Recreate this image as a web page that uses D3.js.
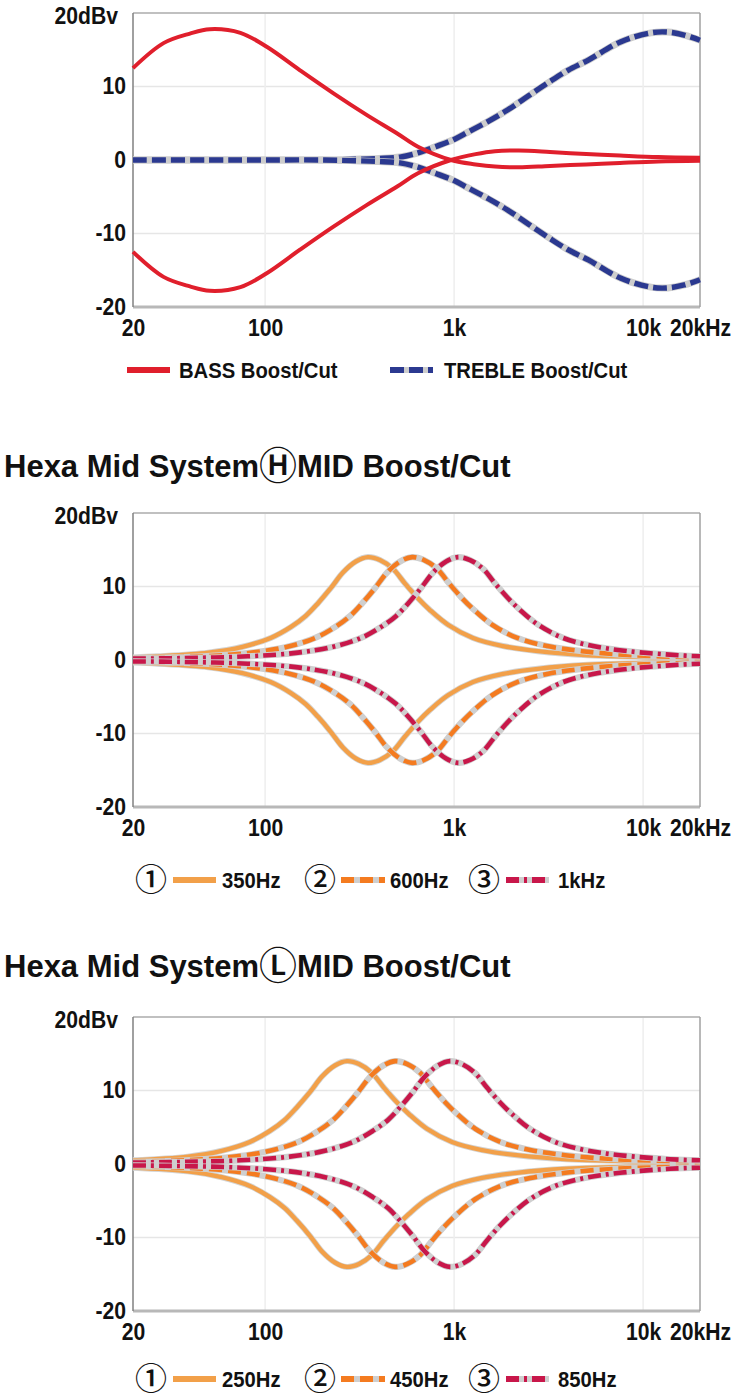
<!DOCTYPE html>
<html><head><meta charset="utf-8">
<script src="https://cdn.jsdelivr.net/npm/d3@7"></script>
<style>body{margin:0;background:#fff} svg{display:block}</style>
</head><body><svg id="c" width="736" height="1400"></svg>
<script>
// ---------- axis labels ----------
const yTickValues = [20, 10, 0, -10, -20];
const yTickLabels = ["20dBv", "10", "0", "-10", "-20"];
const xTickValues = [20, 100, 1000, 10000, 20000];
const xTickLabels = ["20", "100", "1k", "10k", "20kHz"];
const gridFreqs = [100, 1000, 10000];
const gridDb = [10, -10];

// ---------- chart 1 : BASS / TREBLE ----------
const bassFreq  = [20, 29, 40, 51, 74, 102, 153, 229, 346, 500, 644, 963, 1300, 1645, 2200, 3215, 5000, 7547, 12000, 20000];
const bassBoost = [12.5, 15.9, 17.2, 17.8, 17.3, 15.4, 12.2, 9.1, 6.1, 3.6, 1.8, 0, -0.6, -0.9, -1.0, -0.8, -0.6, -0.4, -0.2, -0.1];
const bassCut   = [-12.5, -15.9, -17.2, -17.8, -17.3, -15.4, -12.2, -9.1, -6.1, -3.6, -1.8, 0, 0.8, 1.2, 1.3, 1.1, 0.8, 0.6, 0.4, 0.3];

const trebleFreq  = [20, 50, 100, 200, 300, 400, 517, 650, 793, 1000, 1185, 1500, 1917, 2500, 3140, 4000, 5130, 7640, 11000, 13500, 16500, 20000];
const trebleBoost = [0, 0, 0, 0, 0.1, 0.2, 0.4, 1.0, 1.8, 2.8, 3.8, 5.2, 6.8, 8.8, 10.5, 12.2, 13.6, 16.1, 17.3, 17.4, 17.0, 16.3];
const trebleCut   = [0, 0, 0, 0, -0.1, -0.2, -0.4, -1.0, -1.8, -2.8, -3.8, -5.2, -6.8, -8.8, -10.5, -12.2, -13.6, -16.1, -17.3, -17.4, -17.0, -16.3];

// ---------- chart 2 : Hexa Mid System H ----------
const h350Freq  = [20, 27, 50, 76, 107, 137, 164, 190, 223, 258, 302, 350, 405, 475, 550, 644, 745, 928, 1259, 1814, 2776, 5110, 13510, 20000];
const h350Boost = [0.35, 0.5, 1.0, 1.8, 3.0, 4.5, 6.0, 7.7, 9.8, 11.9, 13.4, 14.0, 13.6, 12.4, 10.4, 8.4, 6.8, 4.8, 3.0, 1.9, 1.2, 0.65, 0.35, 0.3];
const h350Cut   = [-0.35, -0.5, -1.0, -1.8, -3.0, -4.5, -6.0, -7.7, -9.8, -11.9, -13.4, -14.0, -13.6, -12.4, -10.4, -8.4, -6.8, -4.8, -3.0, -1.9, -1.2, -0.65, -0.35, -0.3];

const h600Freq  = [20, 47, 85, 131, 184, 235, 282, 326, 382, 442, 518, 600, 694, 814, 942, 1103, 1277, 1590, 2158, 3110, 4758, 8760, 20000];
const h600Boost = [0.25, 0.5, 1.0, 1.8, 3.0, 4.5, 6.0, 7.7, 9.8, 11.9, 13.4, 14.0, 13.6, 12.4, 10.4, 8.4, 6.8, 4.8, 3.0, 1.9, 1.2, 0.65, 0.35];
const h600Cut   = [-0.25, -0.5, -1.0, -1.8, -3.0, -4.5, -6.0, -7.7, -9.8, -11.9, -13.4, -14.0, -13.6, -12.4, -10.4, -8.4, -6.8, -4.8, -3.0, -1.9, -1.2, -0.65, -0.35];

const h1kFreq  = [20, 35, 81, 149, 229, 322, 411, 494, 571, 669, 774, 907, 1050, 1215, 1424, 1649, 1931, 2234, 2783, 3776, 5442, 8327, 15330, 20000];
const h1kBoost = [0.2, 0.25, 0.5, 1.0, 1.8, 3.0, 4.5, 6.0, 7.7, 9.8, 11.9, 13.4, 14.0, 13.6, 12.4, 10.4, 8.4, 6.8, 4.8, 3.0, 1.9, 1.2, 0.65, 0.5];
const h1kCut   = [-0.2, -0.25, -0.5, -1.0, -1.8, -3.0, -4.5, -6.0, -7.7, -9.8, -11.9, -13.4, -14.0, -13.6, -12.4, -10.4, -8.4, -6.8, -4.8, -3.0, -1.9, -1.2, -0.65, -0.5];

// ---------- chart 3 : Hexa Mid System L ----------
const l250Freq  = [20, 39, 59, 83, 106, 127, 147, 173, 200, 234, 271, 314, 367, 425, 498, 577, 718, 975, 1405, 2149, 3957, 10460, 20000];
const l250Boost = [0.5, 1.0, 1.8, 3.0, 4.5, 6.0, 7.7, 9.8, 11.9, 13.4, 14.0, 13.6, 12.4, 10.4, 8.4, 6.8, 4.8, 3.0, 1.9, 1.2, 0.65, 0.35, 0.28];
const l250Cut   = [-0.5, -1.0, -1.8, -3.0, -4.5, -6.0, -7.7, -9.8, -11.9, -13.4, -14.0, -13.6, -12.4, -10.4, -8.4, -6.8, -4.8, -3.0, -1.9, -1.2, -0.65, -0.35, -0.28];

const l450Freq  = [20, 38, 69, 106, 150, 191, 229, 265, 311, 360, 422, 488, 565, 662, 766, 897, 1038, 1293, 1755, 2529, 3870, 7125, 20000];
const l450Boost = [0.3, 0.5, 1.0, 1.8, 3.0, 4.5, 6.0, 7.7, 9.8, 11.9, 13.4, 14.0, 13.6, 12.4, 10.4, 8.4, 6.8, 4.8, 3.0, 1.9, 1.2, 0.65, 0.35];
const l450Cut   = [-0.3, -0.5, -1.0, -1.8, -3.0, -4.5, -6.0, -7.7, -9.8, -11.9, -13.4, -14.0, -13.6, -12.4, -10.4, -8.4, -6.8, -4.8, -3.0, -1.9, -1.2, -0.65, -0.35];

const l850Freq  = [20, 31, 74, 135, 207, 292, 371, 447, 517, 605, 700, 821, 950, 1099, 1288, 1492, 1747, 2022, 2518, 3416, 4924, 7534, 13870, 20000];
const l850Boost = [0.2, 0.25, 0.5, 1.0, 1.8, 3.0, 4.5, 6.0, 7.7, 9.8, 11.9, 13.4, 14.0, 13.6, 12.4, 10.4, 8.4, 6.8, 4.8, 3.0, 1.9, 1.2, 0.65, 0.5];
const l850Cut   = [-0.2, -0.25, -0.5, -1.0, -1.8, -3.0, -4.5, -6.0, -7.7, -9.8, -11.9, -13.4, -14.0, -13.6, -12.4, -10.4, -8.4, -6.8, -4.8, -3.0, -1.9, -1.2, -0.65, -0.5];

// legend / title texts
const legend1Labels = ["BASS Boost/Cut", "TREBLE Boost/Cut"];
const legendNums = ["①", "②", "③"];
const legendHLabels = ["350Hz", "600Hz", "1kHz"];
const legendLLabels = ["250Hz", "450Hz", "850Hz"];
const titleH = ["Hexa Mid System", "Ⓗ", "MID Boost/Cut"];
const titleL = ["Hexa Mid System", "Ⓛ", "MID Boost/Cut"];

// ---------- styles ----------
const FONT = "'Liberation Sans', Arial, Helvetica, sans-serif";
const CJK = "'Noto Sans CJK JP', 'Noto Sans CJK SC', sans-serif";
const styles = {
  bass:   {color: "#e01f2c", width: 4, dash: null, halo: null},
  treble: {color: "#2b3990", width: 5.4, dash: "14 5", halo: "#cdcdcd"},
  solid:  {color: "#f2a049", width: 4.4, dash: null, halo: "#d4d4d4"},
  dashed: {color: "#f47b20", width: 4.6, dash: "13 6", halo: "#cfcfcf"},
  dashdot:{color: "#c8174a", width: 4.6, dash: "13 5 3 5", halo: "#cfcfcf"}
};

const svg = d3.select("#c");
const x = d3.scaleLog().domain([20, 20000]).range([133, 700]);
const PH = 294;

function condense(sel, k) {
  sel.each(function () {
    const w = this.getComputedTextLength();
    d3.select(this).attr("textLength", w * k).attr("lengthAdjust", "spacingAndGlyphs");
  });
}

function drawChart(top, series) {
  const y = d3.scaleLinear().domain([-20, 20]).range([top + PH, top]);
  const g = svg.append("g");
  // grid
  g.selectAll(".gh").data(gridDb).join("line")
    .attr("x1", x(20)).attr("x2", x(20000)).attr("y1", d => y(d)).attr("y2", d => y(d))
    .attr("stroke", "#e6e6e6").attr("stroke-width", 1.5);
  g.selectAll(".gv").data(gridFreqs).join("line")
    .attr("x1", d => x(d)).attr("x2", d => x(d)).attr("y1", y(20)).attr("y2", y(-20))
    .attr("stroke", "#eeeeee").attr("stroke-width", 1.5);
  // frame
  g.append("line").attr("x1", x(20)).attr("x2", x(20000)).attr("y1", y(20)).attr("y2", y(20))
    .attr("stroke", "#c0c0c0").attr("stroke-width", 2);
  g.append("line").attr("x1", x(20)).attr("x2", x(20000)).attr("y1", y(-20)).attr("y2", y(-20))
    .attr("stroke", "#b8b8b8").attr("stroke-width", 3);
  g.append("line").attr("x1", x(20000)).attr("x2", x(20000)).attr("y1", y(20)).attr("y2", y(-20))
    .attr("stroke", "#a0a0a0").attr("stroke-width", 1.5);
  g.append("line").attr("x1", x(20)).attr("x2", x(20)).attr("y1", y(20)).attr("y2", y(-20))
    .attr("stroke", "#808080").attr("stroke-width", 1.5);

  // curves
  const line = d3.line().x(d => x(d[0])).y(d => y(d[1])).curve(d3.curveCatmullRom.alpha(0.5));
  series.forEach(s => {
    const st = styles[s.style];
    const pts = d3.zip(s.f, s.v);
    if (st.halo) {
      g.append("path").datum(pts).attr("d", line).attr("fill", "none")
        .attr("stroke", st.halo).attr("stroke-width", st.width + 1.6).attr("stroke-linejoin", "round");
    }
    g.append("path").datum(pts).attr("d", line).attr("fill", "none")
      .attr("stroke", st.color).attr("stroke-width", st.width)
      .attr("stroke-dasharray", st.dash).attr("stroke-linejoin", "round");
  });

  // axes
  const ay = g.append("g").attr("transform", `translate(${x(20)},0)`)
    .call(d3.axisLeft(y).tickValues(yTickValues).tickFormat((d, i) => yTickLabels[i]).tickSize(0).tickPadding(7));
  ay.select(".domain").remove();
  ay.selectAll("text").attr("font-family", FONT).attr("font-weight", "bold").attr("font-size", 23).attr("fill", "#111");
  ay.selectAll("text").filter((d, i) => i === 0).attr("dx", -8).attr("dy", "0.45em");
  condense(ay.selectAll("text"), 0.92);

  const ax = g.append("g").attr("transform", `translate(0,${y(-20)})`)
    .call(d3.axisBottom(x).tickValues(xTickValues).tickFormat((d, i) => xTickLabels[i]).tickSize(0).tickPadding(13));
  ax.select(".domain").remove();
  ax.selectAll("text").attr("font-family", FONT).attr("font-weight", "bold").attr("font-size", 23).attr("fill", "#111");
  condense(ax.selectAll("text"), 0.92);
  return {g, y};
}

function legendLine(g, x1, x2, yy, styleKey, w) {
  const st = styles[styleKey];
  if (st.halo && st.dash) {
    g.append("line").attr("x1", x1).attr("x2", x2).attr("y1", yy).attr("y2", yy)
      .attr("stroke", st.halo).attr("stroke-width", w);
  }
  g.append("line").attr("x1", x1).attr("x2", x2).attr("y1", yy).attr("y2", yy)
    .attr("stroke", st.color).attr("stroke-width", w).attr("stroke-dasharray", st.dash);
}

function legendText(g, xx, yy, txt) {
  const t = g.append("text").attr("x", xx).attr("y", yy).attr("dy", "0.36em")
    .attr("font-family", FONT).attr("font-weight", "bold").attr("font-size", 22).attr("fill", "#111").text(txt);
  condense(t, 0.92);
}

function title(yy, parts) {
  const t = svg.append("text").attr("x", 4).attr("y", yy)
    .attr("font-family", FONT).attr("font-weight", "bold").attr("font-size", 31).attr("fill", "#111");
  t.append("tspan").text(parts[0]);
  t.append("tspan").attr("font-family", CJK).attr("font-weight", 500).attr("font-size", 38).attr("dy", 2).text(parts[1]);
  t.append("tspan").attr("dy", -2).text(parts[2]);
}

// ---- chart 1 ----
drawChart(13, [
  {f: trebleFreq, v: trebleBoost, style: "treble"},
  {f: trebleFreq, v: trebleCut, style: "treble"},
  {f: bassFreq, v: bassBoost, style: "bass"},
  {f: bassFreq, v: bassCut, style: "bass"}
]);
const lg1 = svg.append("g");
legendLine(lg1, 127, 170, 370, "bass", 6);
legendText(lg1, 179, 370, legend1Labels[0]);
legendLine(lg1, 390, 433, 370, "treble", 6);
legendText(lg1, 444, 370, legend1Labels[1]);

// ---- chart 2 ----
title(477, titleH);
drawChart(513, [
  {f: h350Freq, v: h350Boost, style: "solid"},
  {f: h350Freq, v: h350Cut, style: "solid"},
  {f: h600Freq, v: h600Boost, style: "dashed"},
  {f: h600Freq, v: h600Cut, style: "dashed"},
  {f: h1kFreq, v: h1kBoost, style: "dashdot"},
  {f: h1kFreq, v: h1kCut, style: "dashdot"}
]);

// ---- chart 3 ----
title(977, titleL);
drawChart(1017, [
  {f: l250Freq, v: l250Boost, style: "solid"},
  {f: l250Freq, v: l250Cut, style: "solid"},
  {f: l450Freq, v: l450Boost, style: "dashed"},
  {f: l450Freq, v: l450Cut, style: "dashed"},
  {f: l850Freq, v: l850Boost, style: "dashdot"},
  {f: l850Freq, v: l850Cut, style: "dashdot"}
]);

function midLegend(yy, labels) {
  const lg = svg.append("g");
  const cx = [151, 320, 484];
  const lx = [[173, 216], [341, 385], [506, 549]];
  const tx = [222, 390, 558];
  const keys = ["solid", "dashed", "dashdot"];
  for (let i = 0; i < 3; i++) {
    lg.append("text").attr("x", cx[i]).attr("y", yy).attr("dy", "0.35em").attr("text-anchor", "middle")
      .attr("font-family", CJK).attr("font-weight", 500).attr("font-size", 32).attr("fill", "#111").text(legendNums[i]);
    legendLine(lg, lx[i][0], lx[i][1], yy, keys[i], 6);
    legendText(lg, tx[i], yy, labels[i]);
  }
}
midLegend(880, legendHLabels);
midLegend(1379, legendLLabels);
</script>
</body></html>
